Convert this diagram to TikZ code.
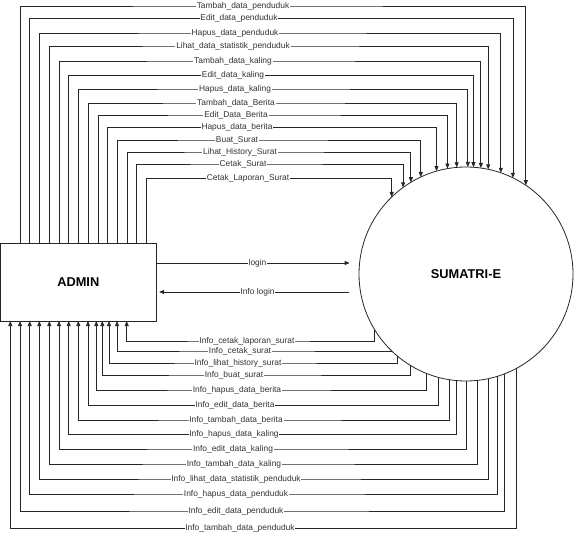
\documentclass[tikz,border=0pt]{standalone}
\usepackage{fontspec}
\setmainfont{Liberation Sans}
\usepackage{tikz}
\usetikzlibrary{arrows.meta}

\begin{document}
\begin{tikzpicture}[x=0.75pt, y=-0.75pt,
        garis/.style={draw=black!85, line width=0.6pt},
        arus/.style={garis, -{Triangle[length=3.8pt, width=3pt]}},
        lbl/.style={fill=white, inner sep=0.6pt, text=black!80, font=\fontsize{6.3}{7}\selectfont},
        entitas/.style={rectangle, garis, minimum width=116.6pt, minimum height=58.5pt, inner sep=0pt, outer sep=0pt, font=\fontsize{9.6}{11}\selectfont\bfseries},
        proses/.style={circle, garis, minimum size=160.5pt, inner sep=0pt, outer sep=0pt, font=\fontsize{9.6}{11}\selectfont\bfseries}]
        \useasboundingbox (0,0) rectangle (574,552);

        \node (admin) [entitas] at (78.3,282) {ADMIN};
        \node (sumatri) [proses] at (466,274) {SUMATRI-E};

        \draw[arus, shorten >=7pt] (admin.east |- 0,263) -- node[lbl]{login} (sumatri.west |- 0,263);
        \draw[arus, shorten <=7.5pt, shorten >=2.3pt] (sumatri.west |- 0,292) -- node[lbl]{Info login} (admin.east |- 0,292);

        \draw[arus] (20,0 |- admin.north) |- (243,6) node[lbl]{Tambah\_data\_penduduk} -| (sumatri.56.5);
        \draw[arus] (29.3,0 |- admin.north) |- (239,18.5) node[lbl]{Edit\_data\_penduduk} -| (sumatri.64.4);
        \draw[arus] (39.3,0 |- admin.north) |- (235,33) node[lbl]{Hapus\_data\_penduduk} -| (sumatri.71.9);
        \draw[arus] (49,0 |- admin.north) |- (233,46) node[lbl]{Lihat\_data\_statistik\_penduduk} -| (sumatri.78);
        \draw[arus] (59,0 |- admin.north) |- (233,61) node[lbl]{Tambah\_data\_kaling} -| (sumatri.82.1);
        \draw[arus] (68.7,0 |- admin.north) |- (233,75.5) node[lbl]{Edit\_data\_kaling} -| (sumatri.86.4);
        \draw[arus] (78.7,0 |- admin.north) |- (235,89) node[lbl]{Hapus\_data\_kaling} -| (sumatri.89.6);
        \draw[arus] (88.3,0 |- admin.north) |- (236,103) node[lbl]{Tambah\_data\_Berita} -| (sumatri.95);
        \draw[arus] (98,0 |- admin.north) |- (236,115) node[lbl]{Edit\_Data\_Berita} -| (sumatri.100.9);
        \draw[arus] (107.7,0 |- admin.north) |- (237,127.5) node[lbl]{Hapus\_data\_berita} -| (sumatri.106.3);
        \draw[arus] (117.3,0 |- admin.north) |- (237,140) node[lbl]{Buat\_Surat} -| (sumatri.115.5);
        \draw[arus] (127,0 |- admin.north) |- (240,152) node[lbl]{Lihat\_History\_Surat} -| (sumatri.121.1);
        \draw[arus] (136.7,0 |- admin.north) |- (243,164) node[lbl]{Cetak\_Surat} -| (sumatri.126.9);
        \draw[arus] (146.7,0 |- admin.north) |- (248,178.5) node[lbl]{Cetak\_Laporan\_Surat} -| (sumatri.134);

        \draw[arus] (sumatri.-149) |- (247,341) node[lbl]{Info\_cetak\_laporan\_surat} -| (126.7,0 |- admin.south);
        \draw[arus] (sumatri.-134) |- (240,351) node[lbl]{Info\_cetak\_surat} -| (117,0 |- admin.south);
        \draw[arus] (sumatri.-130.2) |- (238,363) node[lbl]{Info\_lihat\_history\_surat} -| (109,0 |- admin.south);
        \draw[arus] (sumatri.-121.9) |- (234,375) node[lbl]{Info\_buat\_surat} -| (102.3,0 |- admin.south);
        \draw[arus] (sumatri.-112.1) |- (237,390) node[lbl]{Info\_hapus\_data\_berita} -| (96.3,0 |- admin.south);
        \draw[arus] (sumatri.-105.3) |- (235,405.5) node[lbl]{Info\_edit\_data\_berita} -| (88,0 |- admin.south);
        \draw[arus] (sumatri.-99.8) |- (236,420) node[lbl]{Info\_tambah\_data\_berita} -| (78.3,0 |- admin.south);
        \draw[arus] (sumatri.-95.5) |- (234,434.5) node[lbl]{Info\_hapus\_data\_kaling} -| (68.7,0 |- admin.south);
        \draw[arus] (sumatri.-90) |- (233,449) node[lbl]{Info\_edit\_data\_kaling} -| (59,0 |- admin.south);
        \draw[arus] (sumatri.-84.3) |- (234,464) node[lbl]{Info\_tambah\_data\_kaling} -| (49.3,0 |- admin.south);
        \draw[arus] (sumatri.-78) |- (236,479) node[lbl]{Info\_lihat\_data\_statistik\_penduduk} -| (39.3,0 |- admin.south);
        \draw[arus] (sumatri.-73) |- (236,494) node[lbl]{Info\_hapus\_data\_penduduk} -| (29.7,0 |- admin.south);
        \draw[arus] (sumatri.-69) |- (236,511) node[lbl]{Info\_edit\_data\_penduduk} -| (20,0 |- admin.south);
        \draw[arus] (sumatri.-62.3) |- (240,528.5) node[lbl]{Info\_tambah\_data\_penduduk} -| (10.3,0 |- admin.south);
    \end{tikzpicture}
\end{document}
